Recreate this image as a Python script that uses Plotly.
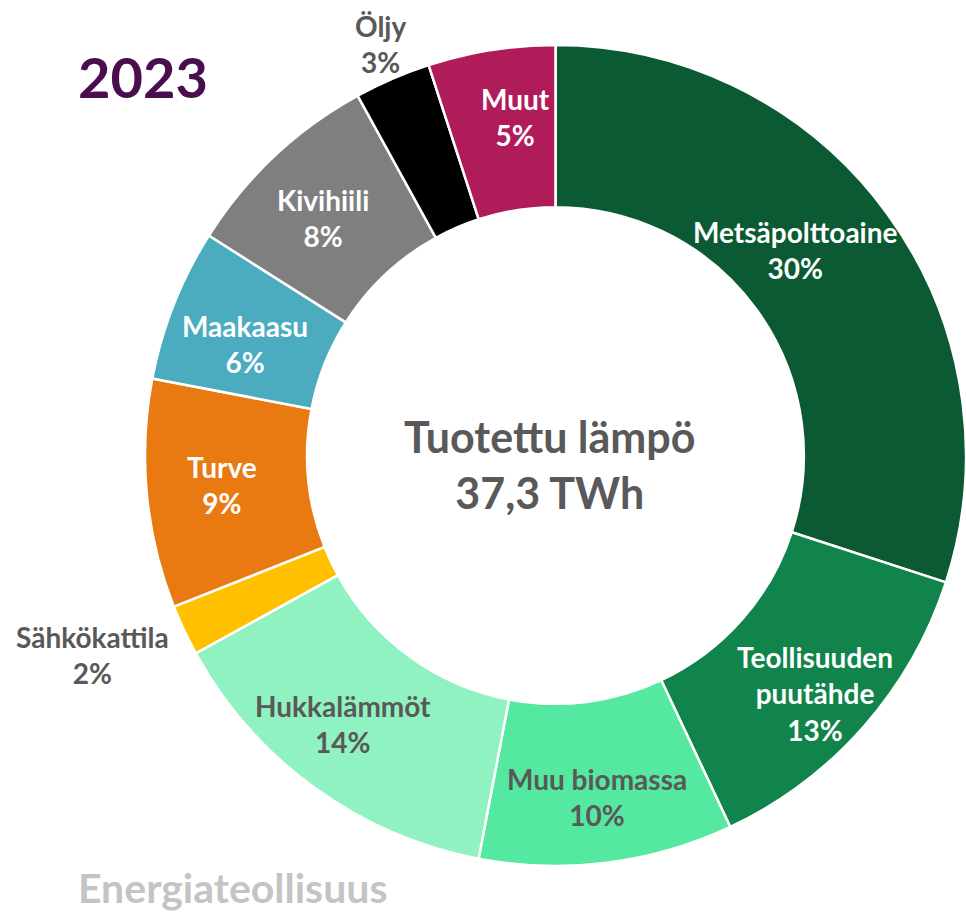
import plotly.graph_objects as go

# ---- data ----
categories = ["Metsäpolttoaine", "Teollisuuden puutähde", "Muu biomassa", "Hukkalämmöt",
              "Sähkökattila", "Turve", "Maakaasu", "Kivihiili", "Öljy", "Muut"]
display_names = ["Metsäpolttoaine", "Teollisuuden<br>puutähde", "Muu biomassa", "Hukkalämmöt",
                 "Sähkökattila", "Turve", "Maakaasu", "Kivihiili", "Öljy", "Muut"]
shares = [30, 13, 10, 14, 2, 9, 6, 8, 3, 5]
year_label = "2023"
center_title = "Tuotettu lämpö"
center_value = "37,3 TWh"
brand = "Energiateollisuus"

# ---- styles ----
colors = ["#0B5A33", "#10844A", "#55E8A0", "#90F2C0", "#FFC000",
          "#E97A12", "#4BACC0", "#7F7F7F", "#000000", "#B01C5A"]
label_colors = ["white", "white", "#595959", "#595959", "#595959",
                "white", "white", "white", "#595959", "white"]
# label centre positions in pixels (x, y of block centre)
label_pos = [(795, 250), (815, 693), (597, 797), (343, 724), (92, 655),
             (222, 485), (245, 344), (323, 218), (380, 44), (515, 117)]

W, H = 966, 913
FONT = "Lato"

fig = go.Figure()
fig.add_trace(go.Pie(
    labels=categories,
    values=shares,
    sort=False,
    direction="clockwise",
    rotation=0,
    hole=0.605,
    marker=dict(colors=colors, line=dict(color="white", width=2.5)),
    textinfo="none",
    hovertemplate="%{label}: %{value}%<extra></extra>",
    domain=dict(x=[145 / W, 1.0], y=[1 - 866 / H, 1 - 45 / H]),
    showlegend=False,
))

ann = []
for name, v, c, (px, py) in zip(display_names, shares, label_colors, label_pos):
    ann.append(dict(
        text=f"<b>{name}<br>{v}%</b>", x=px / W, y=1 - py / H, xref="paper", yref="paper",
        xanchor="center", yanchor="middle", showarrow=False, align="center",
        font=dict(family=FONT, size=28, color=c),
    ))
ann.append(dict(text=f"<b>{year_label}</b>", x=143 / W, y=1 - 77 / H, xref="paper", yref="paper",
                xanchor="center", yanchor="middle", showarrow=False,
                font=dict(family=FONT, size=56, color="#4A0E4E")))
ann.append(dict(text=f"<b>{center_title}<br>{center_value}</b>", x=549 / W, y=1 - 465 / H,
                xref="paper", yref="paper", xanchor="center", yanchor="middle", showarrow=False,
                align="center", font=dict(family=FONT, size=43, color="#595959")))
ann.append(dict(text=f"<b>{brand}</b>", x=232 / W, y=0, xref="paper", yref="paper",
                xanchor="center", yanchor="bottom", showarrow=False, borderpad=0,
                font=dict(family=FONT, size=41, color="#C4C4C4")))

fig.update_layout(
    width=W, height=H,
    margin=dict(l=0, r=0, t=0, b=0),
    paper_bgcolor="white", plot_bgcolor="white",
    annotations=ann,
)

fig.write_html("out.html", config={"displayModeBar": False},
               post_script="document.body.style.margin='0';")
